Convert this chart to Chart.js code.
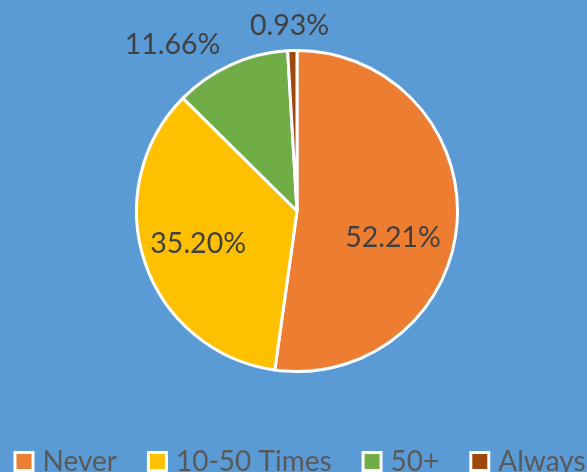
<!DOCTYPE html>
<html>
<head>
<meta charset="utf-8">
<script src="https://cdn.jsdelivr.net/npm/chart.js@4.4.1/dist/chart.umd.min.js"></script>
<style>
    html, body { margin: 0; padding: 0; background: #5b9bd5; overflow: hidden; }
    #wrap { width: 587px; height: 472px; position: relative; }
</style>
</head>
<body>
<div id="wrap"><canvas id="pie"></canvas></div>
<script>
"use strict";

const categories = ['Never', '10-50 Times', '50+', 'Always'];
const shares = [52.21, 35.20, 11.66, 0.93];
const sliceColors = ['#ed7d31', '#ffc000', '#70ad47', '#9e480e'];

/**
 * Percent labels, placed along each slice's mid angle
 */
const sliceLabels = {
    id: 'sliceLabels',
    afterDatasetsDraw(chart, args, opts) {
        const ctx = chart.ctx;
        const meta = chart.getDatasetMeta(0);
        ctx.save();
        ctx.font = opts.size + 'px ' + opts.family;
        ctx.fillStyle = opts.color;
        ctx.textAlign = 'center';
        ctx.textBaseline = 'alphabetic';
        meta.data.forEach((arc, i) => {
            const p = arc.getProps(['x', 'y', 'startAngle', 'endAngle', 'outerRadius'], true);
            const mid = (p.startAngle + p.endAngle) / 2;
            const inside = chart.data.datasets[0].data[i] > 20;
            const dist = p.outerRadius * (inside ? opts.inner : opts.outer);
            const nudge = opts.nudge[i] || [0, 0];
            const x = p.x + Math.cos(mid) * dist + nudge[0];
            const y = p.y + Math.sin(mid) * dist + nudge[1];
            ctx.fillText(chart.data.datasets[0].data[i].toFixed(2) + '%', x, y + opts.size * 0.36);
        });
        ctx.restore();
    }
};

/**
 * Bottom legend, drawn by hand so it can run off the edge like the original
 */
const bottomLegend = {
    id: 'bottomLegend',
    afterDraw(chart, args, opts) {
        const ctx = chart.ctx;
        const labels = chart.data.labels;
        const colors = chart.data.datasets[0].backgroundColor;
        ctx.save();
        ctx.font = opts.size + 'px ' + opts.family;
        const widths = labels.map(l => ctx.measureText(l).width);
        const total = widths.reduce((s, w) => s + opts.box + opts.gap + w, 0) + opts.spacing * (labels.length - 1);
        let x = (chart.width - total) / 2 + opts.shift;
        labels.forEach((label, i) => {
            ctx.fillStyle = '#ffffff';
            ctx.fillRect(x, opts.boxTop, opts.box, opts.box);
            ctx.fillStyle = colors[i];
            ctx.fillRect(x + 3, opts.boxTop + 3, opts.box - 6, opts.box - 6);
            x += opts.box + opts.gap;
            ctx.fillStyle = opts.color;
            ctx.textBaseline = 'alphabetic';
            ctx.fillText(label, x, opts.baseline);
            x += widths[i] + opts.spacing;
        });
        ctx.restore();
    }
};

new Chart(document.getElementById('pie'), {
    type: 'pie',
    data: {
        labels: categories,
        datasets: [{
            data: shares,
            backgroundColor: sliceColors,
            borderColor: '#ffffff',
            borderWidth: 3
        }]
    },
    options: {
        responsive: true,
        maintainAspectRatio: false,
        animation: false,
        layout: { padding: { top: 49, bottom: 99, left: 135, right: 128 } },
        plugins: {
            legend: { display: false },
            tooltip: { enabled: false },
            sliceLabels: {
                family: 'Lato, sans-serif',
                size: 28.5,
                color: '#404040',
                inner: 0.65,
                outer: 1.17,
                nudge: [[-8, 19], [0, -2], [-47, 4], [-2, 1]]
            },
            bottomLegend: {
                family: 'Lato, sans-serif',
                size: 28,
                color: '#595959',
                box: 21,
                gap: 8,
                spacing: 30,
                boxTop: 451,
                baseline: 471,
                shift: 6
            }
        }
    },
    plugins: [sliceLabels, bottomLegend]
});
</script>
</body>
</html>
